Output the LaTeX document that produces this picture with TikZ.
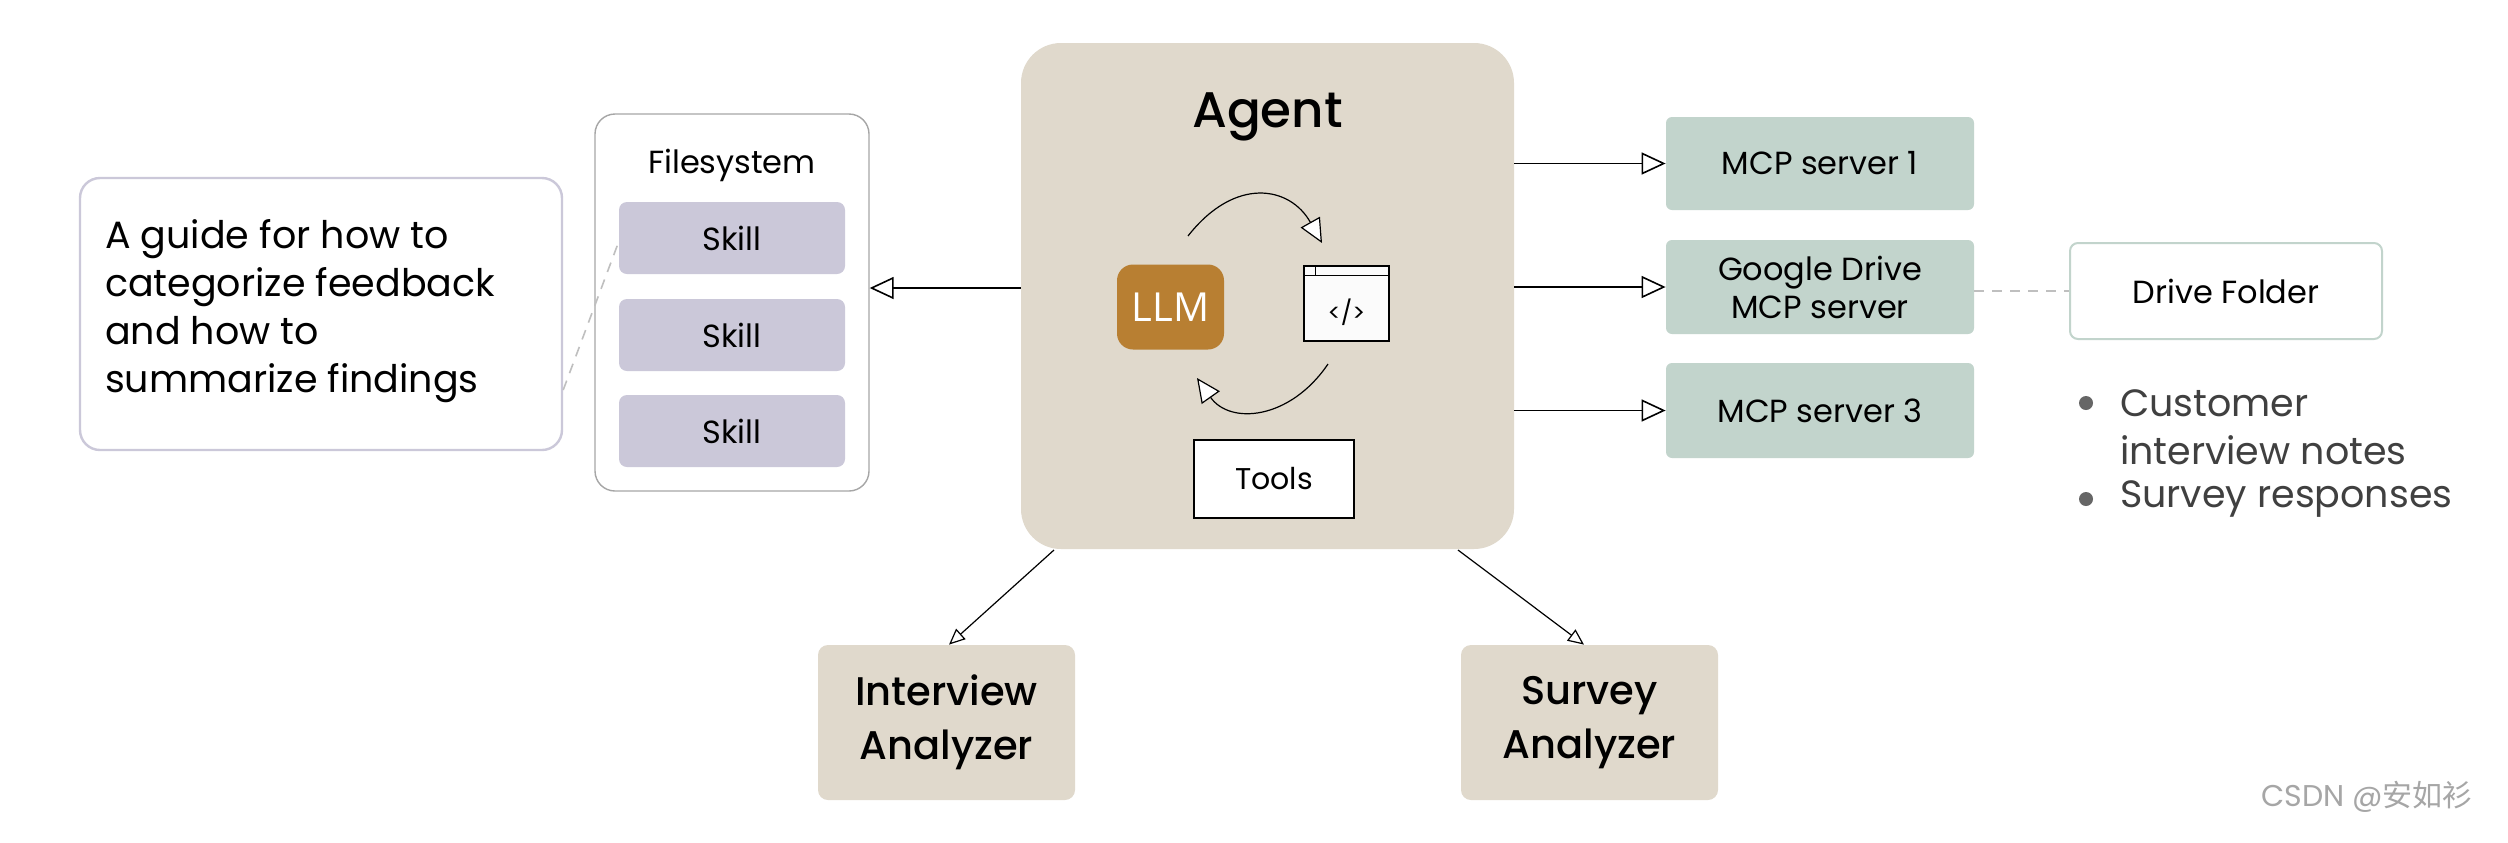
\documentclass[tikz,border=0pt]{standalone}
\usepackage{fontspec}
\setmainfont{Poppins}[BoldFont={Poppins Medium}]
\newfontfamily\llmfont{Open Sans}
\newfontfamily\cjkf{Noto Sans CJK SC}
\usetikzlibrary{arrows.meta}
\definecolor{agentbg}{HTML}{E0D9CC}
\definecolor{llm}{HTML}{B87F32}
\definecolor{skill}{HTML}{CBC8D9}
\definecolor{mcp}{HTML}{C2D4CC}
\tikzset{
 box/.style={draw=none,rounded corners=4pt,align=center,inner sep=0pt},
 arr/.style={draw=black,line width=0.8pt,-{Triangle[open,fill=white,length=12pt,width=11pt]}},
 dashln/.style={draw=gray!50,line width=0.8pt,dash pattern=on 5pt off 4pt},
}
\begin{document}
\begin{tikzpicture}[x=0.5pt,y=-0.5pt]
\useasboundingbox[fill=white] (0,0) rectangle (2508,842);
% agent
\node[box,fill=agentbg,rounded corners=20pt,minimum width=246.5pt,minimum height=253pt] (agent) at (1267.5,296) {};
\node[font=\fontsize{25}{28}\selectfont\bfseries] (agt) at (1267.5,117) {Agent};
\node[box,fill=llm,rounded corners=8pt,minimum width=53.5pt,minimum height=42.5pt,font=\llmfont\fontsize{20}{22}\selectfont,text=white] (llm) at (1170.5,307) {LLM};
\node[draw=black,fill=white!97!gray,line width=0.7pt,minimum width=42.5pt,minimum height=37.5pt,inner sep=0pt] (code) at (1346.5,303.5) {};
\draw[line width=0.6pt] (code.north west)++(0,-5pt) -- ++(42.5pt,0);
\draw[line width=0.6pt] (code.north west)++(6pt,0) -- ++(0,-5pt);
\node[font=\fontsize{12}{14}\selectfont] (ct) at (1346.5,312) {</>};
\coordinate (a1s) at (1188,236);
\coordinate (a1e) at (1322,243);
\coordinate (a2s) at (1328,364);
\coordinate (a2e) at (1197,378);
\draw[arr,line width=0.6pt] (a1s) .. controls (1235,176) and (1290,186) .. (a1e);
\draw[arr,line width=0.6pt] (a2s) .. controls (1290,420) and (1230,425) .. (a2e);
\node[draw=black,fill=white,line width=0.6pt,minimum width=80pt,minimum height=39pt,font=\fontsize{15}{17}\selectfont] (tools) at (1274,479) {Tools};
% filesystem
\node[draw=gray!70,fill=white,rounded corners=10pt,line width=0.7pt,minimum width=137pt,minimum height=188.5pt] (fs) at (732,302.5) {};
\node[font=\fontsize{16}{18}\selectfont] (fst) at (732,165) {Filesystem};
\node[box,fill=skill,minimum width=113pt,minimum height=36pt,font=\fontsize{16}{18}\selectfont] (s1) at (732,238) {Skill};
\node[box,fill=skill,minimum width=113pt,minimum height=36pt,font=\fontsize{16}{18}\selectfont] (s2) at (732,335) {Skill};
\node[box,fill=skill,minimum width=113pt,minimum height=36pt,font=\fontsize{16}{18}\selectfont] (s3) at (732,431) {Skill};
\node[draw=skill,fill=white,rounded corners=10pt,line width=1.2pt,minimum width=241pt,minimum height=136pt] (guide) at (321,314) {};
\node[anchor=west,align=left,font=\fontsize{19}{24}\selectfont] (gt) at (98,311) {A guide for how to\\categorize feedback\\and how to\\summarize findings};
\draw[dashln] ([yshift=-38pt]guide.east) -- ([yshift=-2pt]s1.west);
\draw[arr] (agent.west |- 0,288) -- (fs.east |- 0,288);
% MCP
\node[box,fill=mcp,rounded corners=3pt,minimum width=154pt,minimum height=46.5pt,font=\fontsize{16}{18}\selectfont] (m1) at (1820,163.5) {MCP server 1};
\node[box,fill=mcp,rounded corners=3pt,minimum width=154pt,minimum height=47pt,font=\fontsize{16}{19}\selectfont] (m2) at (1820,287) {Google Drive\\MCP server};
\node[box,fill=mcp,rounded corners=3pt,minimum width=154pt,minimum height=47.5pt,font=\fontsize{16}{18}\selectfont] (m3) at (1820,410.5) {MCP server 3};
\draw[arr] (agent.east |- m1) -- (m1.west);
\draw[arr] (agent.east |- m2) -- (m2.west);
\draw[arr] (agent.east |- m3) -- (m3.west);
\node[draw=mcp,fill=white,rounded corners=4pt,line width=1pt,minimum width=156pt,minimum height=48pt,font=\fontsize{16}{18}\selectfont] (drive) at (2226,291) {Drive Folder};
\draw[dashln] (m2.east |- drive) -- (drive.west);
\node[circle,fill=gray!80!black,inner sep=0pt,minimum size=7pt] (b1) at (2086,403) {};
\node[circle,fill=gray!80!black,inner sep=0pt,minimum size=7pt] (b2) at (2086,499) {};
\node[anchor=west,align=left,text=black!75,font=\fontsize{19}{24}\selectfont] (bt1) at (2113,427) {Customer\\interview notes};
\node[anchor=west,text=black!75,font=\fontsize{19}{24}\selectfont] (bt2) at (2113,499) {Survey responses};
% analyzers
\node[box,fill=agentbg,rounded corners=5pt,minimum width=128.5pt,minimum height=77.5pt,font=\fontsize{20}{27}\selectfont\bfseries] (ia) at (946.5,722.5) {Interview\\Analyzer};
\node[box,fill=agentbg,rounded corners=5pt,minimum width=128.5pt,minimum height=77.5pt,font=\fontsize{20}{27}\selectfont\bfseries] (sa) at (1589.5,722.5) {Survey\\Analyzer};
\coordinate (o1) at (1054,550);
\coordinate (o2) at (1458,550);
\draw[arr,line width=0.6pt,-{Triangle[open,fill=white,length=8pt,width=7pt]}] (o1) -- (ia.north -| 949,0);
\draw[arr,line width=0.6pt,-{Triangle[open,fill=white,length=8pt,width=7pt]}] (o2) -- (sa.north -| 1584,0);
\node[anchor=east,text=gray!70,font=\fontsize{15}{18}\selectfont] (wm) at (2480,797) {CSDN @{\cjkf 安如衫}};
\end{tikzpicture}
\end{document}
